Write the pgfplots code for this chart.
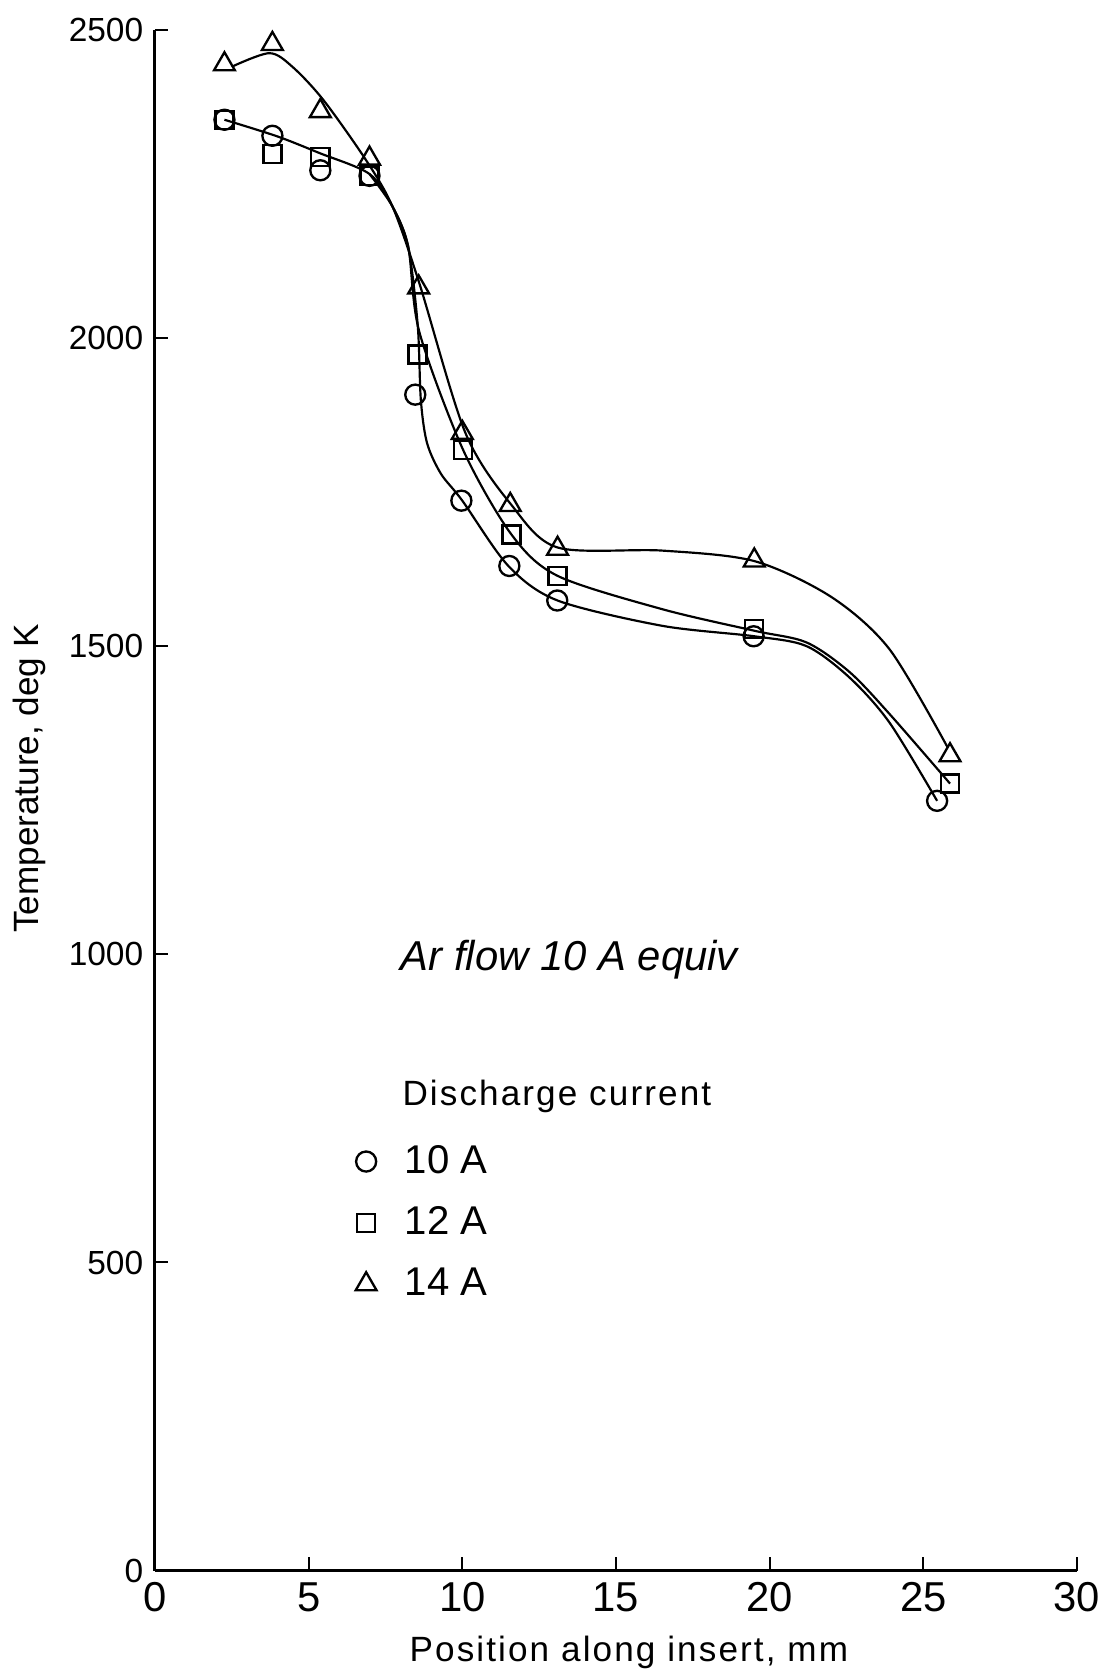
\documentclass[border=0pt]{standalone}
\usepackage{fontspec}
\setmainfont{Liberation Sans}
\usepackage{pgfplots}
\pgfplotsset{compat=1.18}
\begin{document}
\begin{tikzpicture}
\useasboundingbox (-46.35pt,-30.3pt) rectangle (285.3pt,469.7pt);
\begin{axis}[
  at={(0pt,0pt)}, anchor=south west,
  scale only axis, width=275.7pt, height=460.8pt,
  xmin=0, xmax=30, ymin=0, ymax=2500,
  axis lines=left, axis line style={-, line width=0.9pt},
  xtick={0,5,...,30}, ytick={0,500,...,2500},
  tick align=inside, major tick length=4pt, tick style={line width=0.6pt, black},
  /pgf/number format/assume math mode=true,
  /pgf/number format/set thousands separator={},
  scaled ticks=false,
  xticklabel style={font=\fontsize{12.5}{14}\selectfont},
  yticklabel style={font=\fontsize{10}{12}\selectfont},
  xlabel={\addfontfeatures{LetterSpace=6}Position along insert, mm},
  ylabel={Temperature, deg K},
  every axis x label/.style={at={(axis description cs:0.514,0)}, anchor=center, yshift=-24.5pt, font=\fontsize{10.5}{12}\selectfont},
  every axis y label/.style={at={(axis description cs:-0.136,0.514)}, rotate=90, anchor=center, font=\fontsize{10.5}{12}\selectfont},
  legend style={draw=none, fill=none, at={(rel axis cs:0.217,0.281)}, anchor=north west,
    font=\fontsize{12}{14}\selectfont, row sep=4.5pt, column sep=6.5pt, inner sep=0pt},
  legend cell align=left,
]
% curves
\addplot[smooth, line width=0.65pt, forget plot] coordinates {
(2.26,2354) (3.98,2327) (5.35,2300) (6.98,2266) (7.73,2213) (8.24,2148) (8.55,2020) (8.65,1900) (8.85,1830) (9.3,1780) (10.0,1736) (11.5,1630) (13.1,1574) (16.5,1533) (19.5,1516) (21.2,1500) (22.6,1449) (23.9,1376) (25.45,1249)};
\addplot[smooth, line width=0.65pt, forget plot] coordinates {
(6.98,2266) (7.73,2213) (8.24,2148) (8.6,2010) (10.03,1818) (11.6,1681) (13.1,1614) (16.5,1560) (19.5,1525) (21.2,1506) (22.6,1458) (23.9,1390) (25.87,1277)};
\addplot[smooth, line width=0.65pt, forget plot] coordinates {
(2.5,2440) (3.72,2462) (4.47,2440) (5.48,2386) (6.86,2289) (7.73,2213) (8.6,2089) (10.1,1846) (11.6,1729) (13.1,1660) (16.5,1655) (19.5,1638) (22.0,1580) (23.9,1495) (25.8,1335)};
% markers
\addplot[only marks, mark=o, mark size=3pt, mark options={fill=white, line width=0.7pt}] coordinates {
(2.26,2354) (3.82,2328) (5.38,2272) (6.98,2263) (8.47,1908) (9.97,1736) (11.53,1630) (13.09,1574) (19.48,1516) (25.45,1249)};
\addlegendentry{10 A}
\addplot[only marks, mark=square, mark size=2.7pt, mark options={fill=white, line width=0.7pt}] coordinates {
(2.26,2354) (3.82,2298) (5.38,2294) (6.98,2263) (8.54,1973) (10.03,1818) (11.6,1681) (13.1,1614) (19.5,1528) (25.87,1277)};
\addlegendentry{12 A}
\addplot[only marks, mark=triangle, mark size=3.6pt, mark options={fill=white, line width=0.7pt}] coordinates {
(2.26,2444) (3.82,2477) (5.38,2368) (6.98,2291) (8.58,2082) (10.0,1846) (11.56,1729) (13.1,1658) (19.5,1639) (25.87,1323)};
\addlegendentry{14 A}
\node[anchor=west, font=\fontsize{12.5}{14}\selectfont\itshape] at (axis cs:7.62,991) {Ar flow 10 A equiv};
\node[anchor=west, font=\fontsize{10.5}{12}\selectfont\addfontfeatures{LetterSpace=6}] at (axis cs:7.67,769) {Discharge current};
\end{axis}
\end{tikzpicture}
\end{document}
